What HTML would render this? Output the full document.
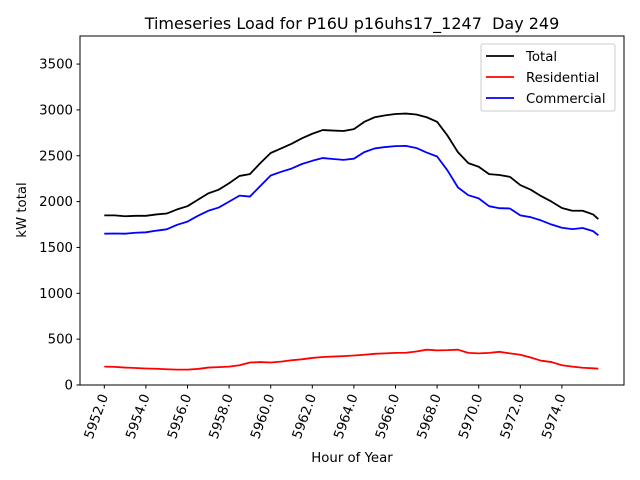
<!DOCTYPE html>
<html><head><meta charset="utf-8"><style>
body{margin:0;background:#fff;}
svg{display:block;font-family:"DejaVu Sans","Liberation Sans",sans-serif;}
</style></head><body>
<svg id="chart" width="640" height="480" xmlns="http://www.w3.org/2000/svg">
<rect width="640" height="480" fill="#fff"/>
<text x="352" y="29" font-size="16" text-anchor="middle">Timeseries Load for P16U p16uhs17_1247&#160; Day 249</text>
<g id="plot"></g>
<rect x="80" y="36" width="544" height="349" fill="none" stroke="#000" stroke-width="1"/>
<text x="352" y="462" font-size="13.3" text-anchor="middle">Hour of Year</text>
<text transform="translate(26,210) rotate(-90)" font-size="13.3" text-anchor="middle">kW total</text>
<g>
<rect x="481" y="44" width="134" height="67" rx="2" fill="#fff" fill-opacity="0.8" stroke="#ccc"/>
<line x1="486" y1="56" x2="514" y2="56" stroke="#000" stroke-width="1.8"/>
<text x="526" y="61" font-size="13.3">Total</text>
<line x1="486" y1="77" x2="514" y2="77" stroke="#f00" stroke-width="1.8"/>
<text x="526" y="82" font-size="13.3">Residential</text>
<line x1="486" y1="98" x2="514" y2="98" stroke="#00f" stroke-width="1.8"/>
<text x="526" y="103" font-size="13.3">Commercial</text>
</g>
</svg>
<script>
const hours=[5952,5952.5,5953,5953.5,5954,5954.5,5955,5955.5,5956,5956.5,5957,5957.5,5958,5958.5,5959,5959.5,5960,5960.5,5961,5961.5,5962,5962.5,5963,5963.5,5964,5964.5,5965,5965.5,5966,5966.5,5967,5967.5,5968,5968.5,5969,5969.5,5970,5970.5,5971,5971.5,5972,5972.5,5973,5973.5,5974,5974.5,5975,5975.5,5975.75];
const totalVals=[1850,1850,1840,1845,1845,1860,1870,1915,1950,2020,2090,2130,2200,2280,2300,2420,2530,2580,2630,2690,2740,2780,2775,2770,2790,2870,2920,2940,2955,2960,2950,2920,2870,2720,2540,2420,2380,2300,2290,2270,2180,2130,2060,2000,1930,1900,1900,1860,1810];
const resVals=[200,198,190,185,180,177,172,168,168,175,190,195,200,215,245,250,245,255,270,280,295,305,310,315,322,330,340,345,350,352,365,385,378,380,385,350,345,350,362,345,330,300,265,250,215,200,188,182,178];
const comVals=[1650,1652,1650,1660,1665,1683,1698,1747,1782,1845,1900,1935,2000,2065,2055,2170,2285,2325,2360,2410,2445,2475,2465,2455,2468,2540,2580,2595,2605,2608,2585,2535,2492,2340,2155,2070,2035,1950,1928,1925,1850,1830,1795,1750,1715,1700,1712,1678,1632];
const xTicks=[5952,5954,5956,5958,5960,5962,5964,5966,5968,5970,5972,5974];
const xTickLabels=["5952.0","5954.0","5956.0","5958.0","5960.0","5962.0","5964.0","5966.0","5968.0","5970.0","5972.0","5974.0"];
const yTicks=[0,500,1000,1500,2000,2500,3000,3500];
const NS="http://www.w3.org/2000/svg";
const svg=document.getElementById('chart');
const plot=document.getElementById('plot');
const x=h=>104.3+(h-5952)*20.8;
const y=v=>385-v*(349/3806);
function mk(t,a){const e=document.createElementNS(NS,t);for(const k in a)e.setAttribute(k,a[k]);return e;}
xTicks.forEach((t,i)=>{
  const l=mk('line',{x1:x(t),y1:385,x2:x(t),y2:388.5,stroke:'#000'});
  
  
  svg.appendChild(l);
  const tx=mk('text',{'font-size':'13.3','text-anchor':'end',transform:`translate(${x(t)+4},396) rotate(-70)`});
  
  
  tx.textContent=xTickLabels[i];
  svg.appendChild(tx);
});
yTicks.forEach(t=>{
  const l=mk('line',{x1:76.5,y1:y(t),x2:80,y2:y(t),stroke:'#000'});
  
  
  svg.appendChild(l);
  const tx=mk('text',{x:73,y:y(t)+4.5,'font-size':'13.3','text-anchor':'end'});
  
  
  tx.textContent=String(t);
  svg.appendChild(tx);
});
function series(vals,color,name){
  const p=mk('polyline',{points:vals.map((v,i)=>x(hours[i])+','+y(v)).join(' '),fill:'none',stroke:color,'stroke-width':'1.8','stroke-linejoin':'round'});
  
  
  plot.appendChild(p);
}
series(totalVals,'#000','total-line');
series(resVals,'#f00','residential-line');
series(comVals,'#00f','commercial-line');
</script>
</body></html>
